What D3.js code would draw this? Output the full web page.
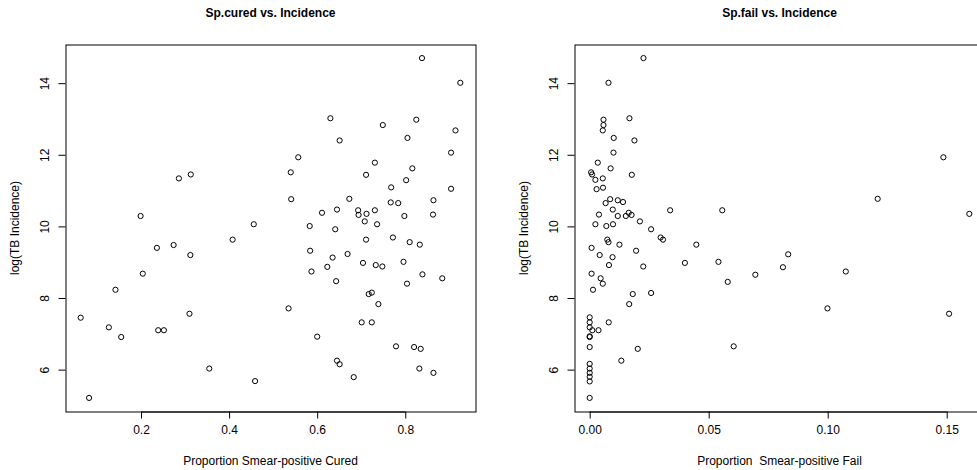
<!DOCTYPE html>
<html>
<head>
<meta charset="utf-8">
<script src="https://cdn.jsdelivr.net/npm/d3@7"></script>
<style>
    body { margin: 0; background: #fff; }
    svg text { font-family: "Liberation Sans", Arial, sans-serif; fill: #000; }
</style>
</head>
<body>
<div id="chart"></div>
<script>

// left panel: proportion smear-positive cured vs log incidence
let curedX = [0.313, 0.286, 0.199, 0.456, 0.408, 0.236, 0.274, 0.312, 0.204, 0.142, 0.063, 0.127, 0.155, 0.239, 0.252, 0.310, 0.355, 0.459, 0.082,
    0.838, 0.925, 0.630, 0.825, 0.749, 0.914, 0.651, 0.805, 0.904, 0.557, 0.731, 0.816, 0.540, 0.711, 0.802, 0.904, 0.768, 0.541, 0.673, 0.767,
    0.784, 0.864, 0.863, 0.611, 0.645, 0.693, 0.694, 0.712, 0.731, 0.798, 0.583, 0.641, 0.708, 0.736, 0.711, 0.772, 0.810, 0.833, 0.584, 0.635,
    0.669, 0.623, 0.704, 0.733, 0.748, 0.796, 0.587, 0.643, 0.839, 0.884, 0.804, 0.717, 0.724, 0.739, 0.535, 0.701, 0.724, 0.600, 0.779, 0.820,
    0.835, 0.645, 0.651, 0.683, 0.832, 0.864];
let curedY = [11.45, 11.34, 10.29, 10.06, 9.63, 9.40, 9.48, 9.20, 8.68, 8.23, 7.45, 7.18, 6.91, 7.10, 7.10, 7.56, 6.03, 5.68, 5.21,
    14.70, 14.01, 13.02, 12.98, 12.83, 12.68, 12.40, 12.47, 12.06, 11.93, 11.78, 11.62, 11.51, 11.44, 11.29, 11.05, 11.09, 10.76, 10.77, 10.67,
    10.65, 10.73, 10.33, 10.38, 10.47, 10.45, 10.32, 10.35, 10.45, 10.29, 10.01, 9.92, 10.14, 10.06, 9.63, 9.69, 9.56, 9.49, 9.32, 9.13,
    9.23, 8.87, 8.98, 8.92, 8.88, 9.01, 8.74, 8.47, 8.66, 8.55, 8.40, 8.11, 8.15, 7.83, 7.71, 7.32, 7.32, 6.92, 6.65, 6.63,
    6.58, 6.25, 6.15, 5.79, 6.03, 5.91];

// right panel: proportion smear-positive fail vs log incidence
let failX = [0.0226, 0.0079, 0.0167, 0.0058, 0.0058, 0.0055, 0.0101, 0.0188, 0.0100, 0.0034, 0.0088, 0.0006, 0.0010, 0.0177, 0.0024, 0.0055,
    0.0029, 0.0056, 0.0338, 0.0067, 0.0086, 0.0118, 0.0140, 0.0097, 0.0039, 0.0118, 0.0152, 0.0164, 0.0176, 0.0211, 0.0024, 0.0070, 0.0098,
    0.0258, 0.0298, 0.0308, 0.0448, 0.0074, 0.0079, 0.0125, 0.0008, 0.0042, 0.0096, 0.0195, 0.0081, 0.0225, 0.0400, 0.0008, 0.0046, 0.0055,
    0.0014, 0.0181, 0.0258, 0.0166, 0, 0, 0, 0.0011, 0.0037, 0.0080, 0, 0, 0, 0.0202, 0.0133, 0, 0, 0, 0, 0, 0,
    0.1486, 0.1210, 0.1595, 0.0557, 0.0541, 0.0834, 0.0812, 0.0580, 0.0696, 0.1076, 0.0999, 0.1510, 0.0605];
let failY = [14.70, 14.01, 13.02, 12.98, 12.83, 12.68, 12.47, 12.40, 12.06, 11.78, 11.62, 11.51, 11.45, 11.44, 11.30, 11.34,
    11.04, 11.08, 10.45, 10.65, 10.76, 10.73, 10.68, 10.47, 10.33, 10.29, 10.29, 10.38, 10.32, 10.14, 10.06, 10.01, 10.06,
    9.92, 9.69, 9.63, 9.49, 9.63, 9.56, 9.49, 9.40, 9.20, 9.14, 9.32, 8.92, 8.88, 8.98, 8.68, 8.55, 8.40,
    8.23, 8.11, 8.14, 7.83, 7.46, 7.32, 7.18, 7.10, 7.10, 7.32, 6.93, 6.91, 6.63, 6.58, 6.25, 6.16, 6.03, 5.91, 5.80, 5.67, 5.21,
    11.93, 10.77, 10.35, 10.45, 9.01, 9.22, 8.86, 8.45, 8.65, 8.74, 7.71, 7.56, 6.65];

let curedTicks = [0.2, 0.4, 0.6, 0.8];
let failTicks = [0, 0.05, 0.10, 0.15];
let incidenceTicks = [6, 8, 10, 12, 14];

let width = 977;
let height = 470;

let svg = d3.select("#chart").append("svg")
    .attr("width", width)
    .attr("height", height);

// R style range: data extent padded 4% on each side
function rRange(vals) {
    let ext = d3.extent(vals);
    let pad = (ext[1] - ext[0]) * 0.04;
    return [ext[0] - pad, ext[1] + pad];
}

function drawPanel(opts) {
    let x = d3.scaleLinear().domain(rRange(opts.xs)).range([opts.left, opts.right]);
    let y = d3.scaleLinear().domain(rRange(opts.ys)).range([opts.bottom, opts.top]);

    let g = svg.append("g");

    // bottom axis
    let xAxis = d3.axisBottom(x)
        .tickValues(opts.xTicks)
        .tickSize(7)
        .tickPadding(7)
        .tickFormat(opts.xFormat);

    let gx = g.append("g")
        .attr("transform", "translate(0," + opts.bottom + ")")
        .call(xAxis);
    gx.select(".domain").remove();
    gx.selectAll("line").attr("stroke", "#000");
    gx.selectAll("text")
        .attr("font-size", 12)
        .attr("font-family", "Liberation Sans, Arial, sans-serif");

    // axis line only spans the ticks, as in R
    g.append("line")
        .attr("x1", x(opts.xTicks[0])).attr("x2", x(opts.xTicks[opts.xTicks.length - 1]))
        .attr("y1", opts.bottom + 0.5).attr("y2", opts.bottom + 0.5)
        .attr("stroke", "#000");

    // left axis, labels rotated like R's las=0
    let yAxis = d3.axisLeft(y)
        .tickValues(incidenceTicks)
        .tickSize(7)
        .tickFormat(d3.format("d"));

    let gy = g.append("g")
        .attr("transform", "translate(" + opts.left + ",0)")
        .call(yAxis);
    gy.select(".domain").remove();
    gy.selectAll("line").attr("stroke", "#000");
    gy.selectAll("text")
        .attr("font-size", 12)
        .attr("font-family", "Liberation Sans, Arial, sans-serif")
        .attr("text-anchor", "middle")
        .attr("x", 0)
        .attr("transform", "translate(-20.5,0) rotate(-90)")
        .attr("y", 0)
        .attr("dy", "0.35em");

    // box
    g.append("rect")
        .attr("x", opts.left + 0.5)
        .attr("y", opts.top + 0.5)
        .attr("width", opts.right - opts.left)
        .attr("height", opts.bottom - opts.top)
        .attr("fill", "none")
        .attr("stroke", "#000")
        .attr("stroke-width", 1);

    // points
    g.append("g").selectAll("circle")
        .data(d3.range(opts.xs.length))
        .join("circle")
        .attr("cx", i => x(opts.xs[i]))
        .attr("cy", i => y(opts.ys[i]))
        .attr("r", 2.6)
        .attr("fill", "none")
        .attr("stroke", "#000")
        .attr("stroke-width", 1);

    let mid = (opts.left + opts.right) / 2;

    g.append("text")
        .attr("x", mid)
        .attr("y", 17)
        .attr("text-anchor", "middle")
        .attr("font-size", 12)
        .attr("font-weight", "bold")
        .text(opts.title);

    // keep the double space in the label
    g.append("text")
        .attr("x", mid)
        .attr("y", 465)
        .attr("text-anchor", "middle")
        .attr("font-size", 12)
        .style("white-space", "pre")
        .text(opts.xLabel);

    g.append("text")
        .attr("transform", "translate(" + (opts.left - 51) + "," + ((opts.top + opts.bottom) / 2) + ") rotate(-90)")
        .attr("text-anchor", "middle")
        .attr("dy", "0.35em")
        .attr("font-size", 12)
        .text("log(TB Incidence)");
}

drawPanel({
    xs: curedX, ys: curedY,
    left: 65.5, right: 475.5, top: 44.5, bottom: 411.5,
    xTicks: curedTicks, xFormat: d3.format(".1f"),
    title: "Sp.cured vs. Incidence",
    xLabel: "Proportion Smear-positive Cured"
});

drawPanel({
    xs: failX, ys: failY,
    left: 574.5, right: 984.5, top: 44.5, bottom: 411.5,
    xTicks: failTicks, xFormat: d3.format(".2f"),
    title: "Sp.fail vs. Incidence",
    xLabel: "Proportion  Smear-positive Fail"
});

</script>
</body>
</html>
